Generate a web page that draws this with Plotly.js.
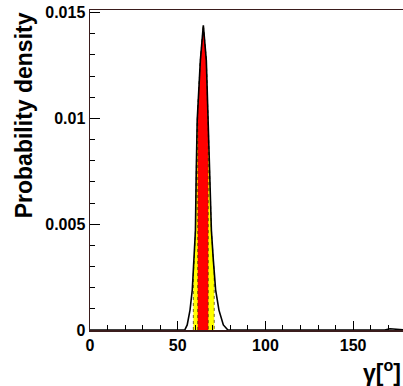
<!DOCTYPE html>
<html>
<head>
<meta charset="utf-8">
<script src="https://cdn.plot.ly/plotly-3.0.1.min.js"></script>
<style>
  html, body { margin: 0; padding: 0; background: #fff; }
  #chart { width: 403px; height: 386px; }
</style>
</head>
<body>
<div id="chart"></div>
<script>
// Posterior probability density of gamma (degrees)
const gamma = [0, 54, 55.4, 57, 58.3, 59.4, 60.1, 60.5, 61.1, 62.9, 64.6, 66.3, 67.2, 68.1, 69.2, 70.3, 71.6, 73.5, 76, 78.6, 168, 171, 175, 180];
const density = [0, 0, 0.00024, 0.00094, 0.0019, 0.0033, 0.0047, 0.0072, 0.0099, 0.01274, 0.0144, 0.01274, 0.0099, 0.0072, 0.0047, 0.0033, 0.0019, 0.00094, 0.00024, 0, 0, 0.00006, 0.00003, 0];
// Credible intervals (68% red, 95% yellow)
const band68 = [61.4, 67.4];
const band95 = [58.9, 70.8];

const xTickVals = [0, 50, 100, 150];
const xTickText = ['0', '50', '100', '150'];
const yTickVals = [0, 0.005, 0.01, 0.015];
const yTickText = ['0', '0.005', '0.01', '0.015'];

function interp(x) {
  for (let i = 0; i < gamma.length - 1; i++) {
    if (x >= gamma[i] && x <= gamma[i + 1]) {
      const t = (x - gamma[i]) / (gamma[i + 1] - gamma[i]);
      return density[i] + t * (density[i + 1] - density[i]);
    }
  }
  return 0;
}
function bandTrace(band, color) {
  const xs = [band[0]], ys = [interp(band[0])];
  for (let i = 0; i < gamma.length; i++) {
    if (gamma[i] > band[0] && gamma[i] < band[1]) { xs.push(gamma[i]); ys.push(density[i]); }
  }
  xs.push(band[1]); ys.push(interp(band[1]));
  xs.unshift(band[0]); ys.unshift(0);
  xs.push(band[1]); ys.push(0);
  return {
    x: xs, y: ys, type: 'scatter', mode: 'lines',
    fill: 'toself', fillcolor: color,
    line: { color: 'rgba(60,40,0,0.7)', width: 1, dash: 'dot' },
    hoverinfo: 'skip', showlegend: false
  };
}

const traces = [
  bandTrace(band95, '#ffff00'),
  bandTrace(band68, '#ff0000'),
  {
    x: gamma, y: density, type: 'scatter', mode: 'lines',
    line: { color: '#000', width: 1.6 }, showlegend: false
  }
];

const FAM = 'Liberation Sans, Arial, sans-serif';
const tickFont = { family: FAM, size: 16, color: '#000' };
const bold = a => a.map(t => '<b>' + t + '</b>');

const layout = {
  width: 403, height: 386,
  margin: { l: 90, r: 0, t: 10, b: 56 },
  paper_bgcolor: '#fff', plot_bgcolor: '#fff',
  showlegend: false,
  xaxis: {
    range: [0, 178.4],
    tickvals: xTickVals, ticktext: bold(xTickText),
    ticks: 'inside', ticklen: 9, tickwidth: 1, tickcolor: '#000',
    minor: { dtick: 10, ticks: 'inside', ticklen: 5, tickcolor: '#000', tickwidth: 1 },
    showline: true, linecolor: '#3a1c1c', linewidth: 1.5, mirror: true,
    showgrid: false, zeroline: false,
    tickfont: tickFont
  },
  yaxis: {
    range: [0, 0.01512],
    tickvals: yTickVals, ticktext: bold(yTickText),
    ticks: 'inside', ticklen: 10, tickwidth: 1, tickcolor: '#000',
    minor: { dtick: 0.001, ticks: 'inside', ticklen: 5, tickcolor: '#000', tickwidth: 1 },
    showline: true, linecolor: '#3a1c1c', linewidth: 1.5,
    showgrid: false, zeroline: false,
    tickfont: tickFont
  },
  annotations: [
    {
      text: '<b>Probability density</b>', xref: 'paper', yref: 'paper',
      x: -0.21, y: 1.0, xanchor: 'center', yanchor: 'top', textangle: -90,
      showarrow: false, font: { family: FAM, size: 23, color: '#000' }
    },
    {
      text: '<b>γ[<sup>o</sup>]</b>', xref: 'paper', yref: 'paper', x: 1.0, y: -0.128,
      xanchor: 'right', yanchor: 'middle', showarrow: false,
      font: { family: FAM, size: 23, color: '#000' }
    }
  ]
};

Plotly.newPlot('chart', traces, layout, { displayModeBar: false, staticPlot: true });
</script>
</body>
</html>
